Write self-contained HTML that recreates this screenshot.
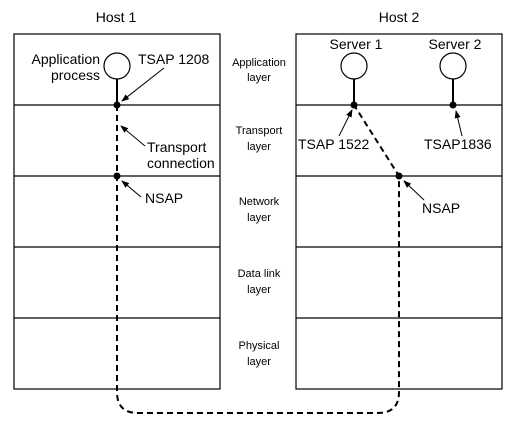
<!DOCTYPE html>
<html><head><style>body{margin:0;background:#fff}</style></head><body>
<svg width="517" height="427" xmlns="http://www.w3.org/2000/svg" font-family="Liberation Sans, sans-serif">
<defs><marker id="a" markerWidth="8" markerHeight="8" refX="7" refY="4" orient="auto" markerUnits="userSpaceOnUse"><path d="M0,1 L8,4 L0,7 z" fill="#000"/></marker></defs>
<g stroke="#000" stroke-width="1.2" fill="none">
<rect x="14" y="34" width="206" height="355"/>
<rect x="296" y="34" width="206" height="355"/>
<path d="M14 105H220M14 176H220M14 247H220M14 318H220M296 105H502M296 176H502M296 247H502M296 318H502"/>
<circle cx="117" cy="66" r="13"/><circle cx="354" cy="66" r="13"/><circle cx="453" cy="66" r="13"/>
<path d="M117 79V105M354 79V105M453 79V105" stroke-width="2"/>
<path d="M117 105V392Q117 413 138 413H378Q399 413 399 392V176L354 105" stroke-width="2" stroke-dasharray="6,4"/>
<g stroke-width="1" marker-end="url(#a)">
<line x1="164" y1="68" x2="122" y2="101"/>
<line x1="145" y1="146" x2="121" y2="126"/>
<line x1="141" y1="197" x2="122" y2="181"/>
<line x1="339" y1="136" x2="352" y2="110"/>
<line x1="462" y1="136" x2="456" y2="111"/>
<line x1="424" y1="200" x2="404" y2="181"/>
</g></g>
<circle cx="117" cy="105" r="3.5"/><circle cx="117" cy="176" r="3.5"/><circle cx="354" cy="105" r="3.5"/><circle cx="453" cy="105" r="3.5"/><circle cx="399" cy="176" r="3.5"/>
<g font-size="14">
<text x="116" y="22" text-anchor="middle">Host 1</text>
<text x="399" y="22" text-anchor="middle">Host 2</text>
<text x="100" y="64" text-anchor="end">Application</text>
<text x="100" y="80" text-anchor="end">process</text>
<text x="138" y="64">TSAP 1208</text>
<text x="147" y="152">Transport</text>
<text x="147" y="168">connection</text>
<text x="145" y="203">NSAP</text>
<text x="356" y="49" text-anchor="middle">Server 1</text>
<text x="455" y="49" text-anchor="middle">Server 2</text>
<text x="298" y="149">TSAP 1522</text>
<text x="424" y="149">TSAP1836</text>
<text x="422" y="213">NSAP</text>
</g>
<g font-size="11" text-anchor="middle">
<text x="259" y="66">Application</text><text x="259" y="81">layer</text>
<text x="259" y="134">Transport</text><text x="259" y="150">layer</text>
<text x="259" y="205">Network</text><text x="259" y="221">layer</text>
<text x="259" y="277">Data link</text><text x="259" y="293">layer</text>
<text x="259" y="349">Physical</text><text x="259" y="365">layer</text>
</g>
</svg>
</body></html>
